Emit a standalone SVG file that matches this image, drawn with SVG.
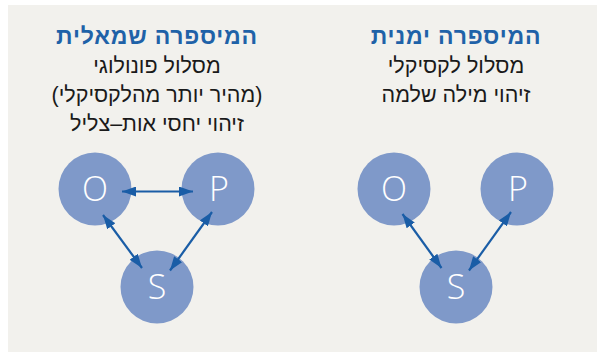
<svg xmlns="http://www.w3.org/2000/svg" width="599" height="352" viewBox="0 0 599 352">
<defs>
<marker id="ah" viewBox="0 0 14 10" refX="14" refY="5" markerWidth="14" markerHeight="10" markerUnits="userSpaceOnUse" orient="auto-start-reverse">
<path d="M0,0 L14,5 L0,10 Z" fill="#1a5da6"/>
</marker>
</defs>
<style>
.bg{fill:#f2f1ed}
.node circle{fill:#7f99c9}
.node text{fill:#fff;font-family:"Open Sans","Noto Sans","DejaVu Sans",sans-serif;font-weight:300;font-size:34px;text-anchor:middle}
.title{fill:#1f62a8;font-family:"Liberation Sans","DejaVu Sans",sans-serif;font-weight:bold;font-size:23px;letter-spacing:0.8px;text-anchor:middle}
.body{fill:#1a1a1a;font-family:"Liberation Sans","DejaVu Sans",sans-serif;font-size:21.5px;text-anchor:middle}
.conn line{stroke:#1a5da6;stroke-width:2.2;marker-start:url(#ah);marker-end:url(#ah)}
</style>
<rect class="bg" x="8" y="5" width="589" height="347"/>
<g id="labels-left">
<text class="title" x="157" y="44" direction="rtl">המיספרה שמאלית</text>
<text class="body" x="157" y="73" direction="rtl">מסלול פונולוגי</text>
<text class="body" x="157" y="102" direction="rtl">(מהיר יותר מהלקסיקלי)</text>
<text class="body" x="157" y="131" direction="rtl">זיהוי יחסי אות–צליל</text>
</g>
<g id="labels-right">
<text class="title" x="456" y="44" direction="rtl">המיספרה ימנית</text>
<text class="body" x="456" y="73" direction="rtl">מסלול לקסיקלי</text>
<text class="body" x="456" y="102" direction="rtl">זיהוי מילה שלמה</text>
</g>
<g id="L-O" class="node"><circle cx="95" cy="189" r="36.5"/><text x="95" y="201">O</text></g>
<g id="L-P" class="node"><circle cx="218" cy="189" r="36.5"/><text x="219" y="201">P</text></g>
<g id="L-S" class="node"><circle cx="157" cy="287" r="36.5"/><text x="157" y="299">S</text></g>
<g id="R-O" class="node"><circle cx="394" cy="189" r="36.5"/><text x="394" y="201">O</text></g>
<g id="R-P" class="node"><circle cx="517" cy="189" r="36.5"/><text x="518" y="201">P</text></g>
<g id="R-S" class="node"><circle cx="456" cy="287" r="36.5"/><text x="456" y="299">S</text></g>
<g id="connectors" class="conn">
<line x1="122" y1="191.5" x2="193" y2="191.5"/>
<line x1="103" y1="215" x2="142" y2="268"/>
<line x1="212" y1="212" x2="170" y2="270.5"/>
<line x1="402.5" y1="214" x2="441.5" y2="268"/>
<line x1="511" y1="212" x2="469" y2="270.5"/>
</g>
</svg>
